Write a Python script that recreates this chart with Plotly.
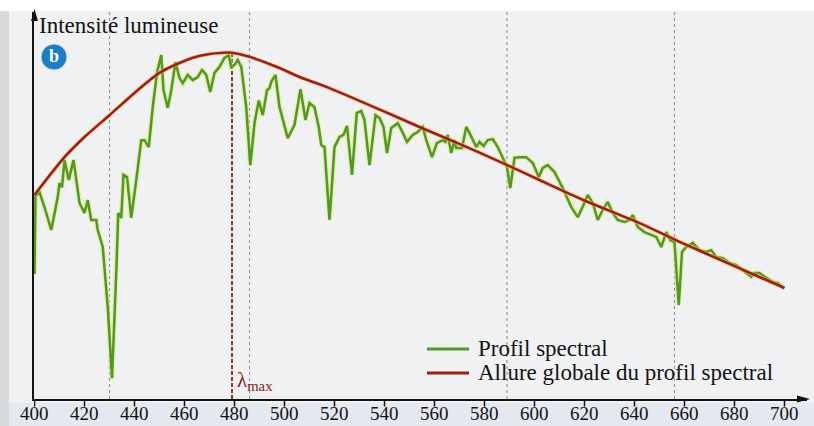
import plotly.graph_objects as go

# ---------------- data ----------------
wavelength_ticks = [400, 420, 440, 460, 480, 500, 520, 540, 560, 580, 600, 620, 640, 660, 680, 700]

spectral_wl = [400.0, 400.4, 402, 404, 406.7, 409.3, 410, 411, 412, 413.7, 415.6, 418, 420, 421.3, 422.7,
               424.7, 425.3, 427.3, 429.3, 431, 432.7, 433.5, 434.7, 435.6, 437, 438.7, 440.7, 442.7, 444,
               445.7, 447.3, 449, 450.7, 451.6, 453.3, 454.7, 456.4, 458, 459.3, 461.3, 463.3, 465.3, 467,
               468.7, 470.3, 472, 474, 476, 477.7, 478.7, 480, 481.3, 482.7, 484.7, 486.3, 488, 489.7, 491.3,
               493, 494, 494.7, 496.4, 498, 501.3, 504, 505.3, 506.4, 508.4, 510, 512, 513.7, 514.7, 516,
               518, 520, 522, 523.6, 525, 527, 528.9, 530.7, 532, 534, 536.4, 538, 539.6, 541, 542.7, 545.3,
               547.2, 549, 551.3, 553.2, 555.3, 556.7, 559, 561, 563.3, 564.4, 565.3, 566.7, 568, 568.7,
               571, 572.7, 574, 575.3, 576.7, 578, 579.6, 581.3, 583.3, 585.3, 586.7, 589, 590.3, 592, 594,
               596.7, 599.3, 601.7, 603.3, 605.3, 608, 611.3, 614.7, 617.3, 618.7, 621.3, 623.3, 625.3,
               627.3, 629.3, 631.3, 633.3, 636, 638, 639.3, 641.3, 644, 646.7, 648.7, 650.7, 652.7, 654.3,
               656, 657.7, 659, 660.7, 663.3, 666, 668.7, 670.7, 672.7, 675.3, 678, 680.7, 683.3, 686.7,
               688, 690, 692.7, 695.3, 697.3, 699.7]
spectral_int = [36, 58.5, 59.6, 55.3, 48.7, 58.2, 62.2, 61, 68.9, 63.1, 68.9, 56.5, 53.6, 57.3, 51.6,
                51.6, 48.7, 43.8, 26.5, 6, 36.3, 53.6, 52.2, 64.6, 64, 52.2, 63.1, 74.6, 74.6,
                72.6, 84.1, 94, 99.1, 89, 83.9, 89, 97.1, 92.5, 91, 93.4, 91.9, 92.8, 94.8,
                93.4, 88.5, 94, 95.7, 98.3, 99.1, 95.7, 96.3, 97.7, 95.7, 84.1, 67.4, 79.5, 86, 81.8,
                89, 89.6, 91.4, 93.4, 84.1, 75.2, 79, 84.7, 89.3, 80.4, 85.3, 84.1, 78.4, 73.2, 72.6,
                51.6, 72.6, 75.5, 76.1, 78.7, 64.6, 82.4, 83, 80.4, 67.4, 81.8, 81, 78.4, 70.9, 78.1, 79.5,
                76.9, 74.1, 76.1, 76.9, 78.4, 74.6, 69.7, 73.8, 74.6, 74.1, 76.1, 70.9, 74.6, 72.3,
                72.3, 78.4, 76.7, 74.6, 72.6, 74.1, 72.9, 74.6, 74.9, 72.6, 70.3, 66.9, 60.8, 69.5, 69.7,
                69.7, 68, 64, 66.6, 67.4, 65.4, 60.8, 55.3, 52.4, 54.5, 58.8, 56.5, 51.6,
                54.5, 56.8, 53.6, 51.6, 51, 51.6, 53, 49.6, 48.1, 47.3, 46.7, 43.8, 48.1, 45.8,
                45.2, 27.1, 42.4, 43.8, 45, 42.9, 42.4, 42.9, 40.9, 40.6, 39.2, 38.6, 37.2, 35.2,
                36.3, 36.3, 34.9, 33.7, 33.4, 32]

envelope_wl = [400, 412, 420, 430, 440, 450, 463, 470, 479, 486, 498, 506, 518, 540, 554, 573, 590,
               602, 620, 642, 659, 680, 700]
envelope_int = [58.8, 69.7, 75.5, 81.8, 88.2, 94, 98.3, 99.4, 99.8, 98.6, 95.4, 92.8, 89.6, 82.8, 78.4,
                72.6, 67.1, 63.1, 57.2, 50.7, 45, 38.3, 32]

lambda_max = 479
fraunhofer_lines = [430, 486, 589, 656]

legend_labels = ["Profil spectral", "Allure globale du profil spectral"]
y_title = "Intensité lumineuse"

# ---------------- layout geometry ----------------
W, H = 814, 426
ML, MR, MT, MB = 34, 7, 12, 27
PW, PH = W - ML - MR, H - MT - MB
PX_PER_NM = 2.5
PX_PER_UNIT = 3.47
x_range = [400 - 0.5 / PX_PER_NM, 400 - 0.5 / PX_PER_NM + PW / PX_PER_NM]
y_range = [0, PH / PX_PER_UNIT]


def px_x(p):
    return (p - ML) / PW


def px_y(p):
    return (H - MB - p) / PH


GREEN = "#4e9a22"
RED = "#a31c16"
SERIF = "Liberation Serif"
INK = "#141414"

fig = go.Figure()

# glow under lines (print look)
fig.add_trace(go.Scatter(x=spectral_wl, y=spectral_int, mode="lines",
                         line=dict(color="rgba(225,230,110,0.55)", width=5),
                         hoverinfo="skip", showlegend=False))
fig.add_trace(go.Scatter(x=spectral_wl, y=spectral_int, mode="lines", name=legend_labels[0],
                         line=dict(color=GREEN, width=2.5), showlegend=False))
fig.add_trace(go.Scatter(x=envelope_wl, y=envelope_int, mode="lines",
                         line=dict(color="rgba(235,200,110,0.5)", width=4.5, shape="spline", smoothing=0.8),
                         hoverinfo="skip", showlegend=False))
fig.add_trace(go.Scatter(x=envelope_wl, y=envelope_int, mode="lines", name=legend_labels[1],
                         line=dict(color=RED, width=2.6, shape="spline", smoothing=0.8),
                         showlegend=False))

shapes = []
# page-like background details
shapes.append(dict(type="rect", xref="paper", yref="paper", x0=px_x(0), x1=px_x(W), y0=px_y(11), y1=px_y(0),
                   fillcolor="white", line=dict(width=0), layer="below"))
shapes.append(dict(type="rect", xref="paper", yref="paper", x0=px_x(0), x1=px_x(9), y0=px_y(H), y1=px_y(11),
                   fillcolor="#d9dadb", line=dict(width=0), layer="below"))
shapes.append(dict(type="rect", xref="paper", yref="paper", x0=px_x(9), x1=px_x(W), y0=px_y(H), y1=px_y(403),
                   fillcolor="#e4e9ef", line=dict(width=0), layer="below"))
# Fraunhofer dotted lines
for wl in fraunhofer_lines:
    shapes.append(dict(type="line", xref="x", yref="paper", x0=wl, x1=wl, y0=0, y1=1,
                       line=dict(color="#9a9a9a", width=1.2, dash="dot"), layer="below"))
# lambda max dashed
shapes.append(dict(type="line", xref="x", yref="y", x0=lambda_max, x1=lambda_max, y0=0, y1=max(envelope_int),
                   line=dict(color="#8a3a22", width=2, dash="4px,2px"), layer="below"))
# x tick marks below the axis
for t in wavelength_ticks:
    shapes.append(dict(type="line", xref="x", yref="paper", x0=t, x1=t, y0=px_y(399), y1=px_y(406.5),
                       line=dict(color=INK, width=1.5)))
# arrowheads
shapes.append(dict(type="path", xref="paper", yref="paper",
                   path=f"M {px_x(34.5)},{px_y(9)} L {px_x(31)},{px_y(21)} L {px_x(38)},{px_y(21)} Z",
                   fillcolor=INK, line=dict(width=0)))
shapes.append(dict(type="path", xref="paper", yref="paper",
                   path=f"M {px_x(810)},{px_y(399)} L {px_x(797)},{px_y(395.5)} L {px_x(797)},{px_y(402.5)} Z",
                   fillcolor=INK, line=dict(width=0)))
# manual legend
for i, col in enumerate([GREEN, RED]):
    yy = px_y(349 + 24 * i)
    shapes.append(dict(type="line", xref="paper", yref="paper", x0=px_x(427), x1=px_x(469), y0=yy, y1=yy,
                       line=dict(color=col, width=3)))
# badge
shapes.append(dict(type="circle", xref="paper", yref="paper", x0=px_x(41), x1=px_x(67), y0=px_y(70), y1=px_y(44),
                   fillcolor="#1d7cc2", line=dict(color="#cfe3f3", width=1)))

annotations = []
annotations.append(dict(text=y_title, xref="paper", yref="paper", x=px_x(37), y=px_y(25),
                        xanchor="left", yanchor="middle", showarrow=False,
                        font=dict(family=SERIF, size=23, color=INK)))
annotations.append(dict(text="<b>b</b>", xref="paper", yref="paper", x=px_x(54), y=px_y(56),
                        xanchor="center", yanchor="middle", showarrow=False,
                        font=dict(family=SERIF, size=18, color="white")))
for i, lab in enumerate(legend_labels):
    annotations.append(dict(text=lab, xref="paper", yref="paper", x=px_x(476), y=px_y(348 + 24 * i),
                            xanchor="left", yanchor="middle", showarrow=False,
                            font=dict(family=SERIF, size=23, color=INK)))
annotations.append(dict(text="λ<sub>max</sub>", xref="x", yref="paper", x=lambda_max + 1.0, y=px_y(381),
                        xanchor="left", yanchor="middle", showarrow=False,
                        font=dict(family=SERIF, size=21, color="#8b2316")))
# wavelength tick labels, placed on the x scale
for t in wavelength_ticks:
    annotations.append(dict(text=str(t), xref="x", yref="paper", x=t, y=px_y(425), xanchor="center",
                            yanchor="bottom", showarrow=False, borderpad=0,
                            font=dict(family=SERIF, size=19, color=INK)))

fig.update_layout(
    width=W, height=H,
    margin=dict(l=ML, r=MR, t=MT, b=MB, pad=0),
    paper_bgcolor="#eff1f2", plot_bgcolor="rgba(0,0,0,0)",
    shapes=shapes, annotations=annotations,
    showlegend=False,
    xaxis=dict(range=x_range, showticklabels=False, ticks="", showline=True, linecolor=INK, linewidth=1.5,
               showgrid=False, zeroline=False, automargin=False, fixedrange=True),
    yaxis=dict(range=y_range, showticklabels=False, ticks="", showline=True, linecolor=INK,
               linewidth=1.5, showgrid=False, zeroline=False, automargin=False, fixedrange=True),
)

fig.write_html("out.html")
